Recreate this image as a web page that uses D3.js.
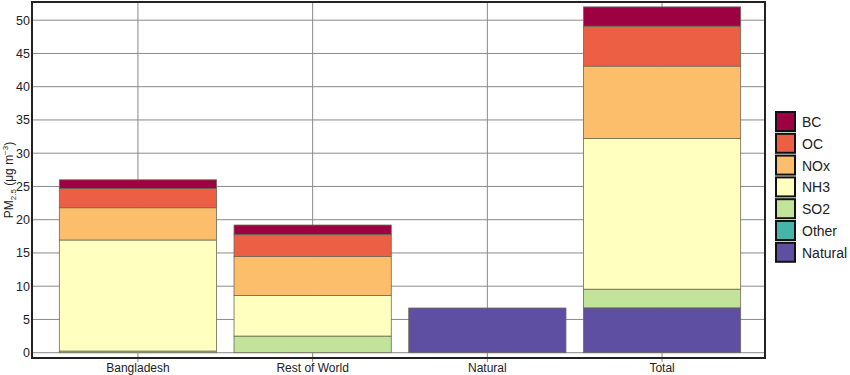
<!DOCTYPE html>
<html><head><meta charset="utf-8">
<script src="https://cdn.jsdelivr.net/npm/d3@7"></script>
<style>body{margin:0;background:#fff}svg{display:block;font-family:"Liberation Sans",Arial,sans-serif}</style>
</head><body>
<svg id="c" width="850" height="375"></svg>
<script>
const categories = ["Bangladesh", "Rest of World", "Natural", "Total"];
const sources = ["Natural", "Other", "SO2", "NH3", "NOx", "OC", "BC"];
const Natural = [0, 0, 6.72, 6.75];
const Other   = [0, 0, 0, 0];
const SO2     = [0.25, 2.5, 0, 2.8];
const NH3     = [16.7, 6.1, 0, 22.65];
const NOx     = [4.85, 5.85, 0, 10.9];
const OC      = [2.9, 3.3, 0, 6.0];
const BC      = [1.3, 1.45, 0, 2.9];
const yTicks  = [0, 5, 10, 15, 20, 25, 30, 35, 40, 45, 50];
const colors = {BC:"#9e0142", OC:"#ec5f44", NOx:"#fdbe6c", NH3:"#ffffbf", SO2:"#c2e39a", Other:"#45b5aa", Natural:"#5e4fa2"};

const seriesVals = {Natural, Other, SO2, NH3, NOx, OC, BC};
const table = categories.map((c, i) => {
  const r = {cat: c};
  sources.forEach(s => r[s] = seriesVals[s][i]);
  return r;
});

const svg = d3.select("#c");
const L = 32, R = 765, T = 2, B = 358;
const x = d3.scaleBand().domain(categories).range([L + 2, R + 1]).paddingInner(0.1).paddingOuter(0.145);
const y = d3.scaleLinear().domain([0, 50]).range([352.7, 20.2]);

// gridlines
svg.append("g").selectAll("line").data(yTicks).join("line")
  .attr("x1", L).attr("x2", R).attr("y1", d => y(d)).attr("y2", d => y(d))
  .attr("stroke", "#8a8a8a").attr("stroke-width", 1);
svg.append("g").selectAll("line").data(categories).join("line")
  .attr("x1", d => x(d) + x.bandwidth()/2).attr("x2", d => x(d) + x.bandwidth()/2)
  .attr("y1", T).attr("y2", B + 4)
  .attr("stroke", "#8a8a8a").attr("stroke-width", 1);

// bars
const stack = d3.stack().keys(sources)(table);
svg.append("g").selectAll("g").data(stack).join("g")
  .attr("fill", d => colors[d.key])
  .selectAll("rect").data(d => d.filter(p => p[1] - p[0] > 0)).join("rect")
  .attr("x", d => x(d.data.cat)).attr("width", x.bandwidth())
  .attr("y", d => y(d[1])).attr("height", d => y(d[0]) - y(d[1]))
  .attr("stroke", "#6e6a55").attr("stroke-width", 0.8);

// frame
svg.append("rect").attr("x", L).attr("y", T).attr("width", R - L).attr("height", B - T)
  .attr("fill", "none").attr("stroke", "#222").attr("stroke-width", 2);

// y axis
const ya = d3.axisLeft(y).tickValues(yTicks).tickSize(0).tickPadding(2);
const yg = svg.append("g").attr("transform", `translate(${L},0)`).call(ya);
yg.select(".domain").remove();
yg.selectAll("text").attr("font-size", 12.5).attr("fill", "#222").attr("font-family", "Liberation Sans, Arial, sans-serif");

// x axis
const xa = d3.axisBottom(x).tickSize(0).tickPadding(5);
const xg = svg.append("g").attr("transform", `translate(0,${B})`).call(xa);
xg.select(".domain").remove();
xg.selectAll("text").attr("font-size", 12).attr("fill", "#222").attr("font-family", "Liberation Sans, Arial, sans-serif");

// y label
const yl = svg.append("text").attr("transform", "translate(13,180) rotate(-90)")
  .attr("text-anchor", "middle").attr("font-size", 12).attr("fill", "#222");
yl.append("tspan").text("PM");
yl.append("tspan").attr("font-size", 8).attr("dy", 3).text("2.5");
yl.append("tspan").attr("dy", -3).text("\u00a0(μg m");
yl.append("tspan").attr("font-size", 8).attr("dy", -5).text("−3");
yl.append("tspan").attr("dy", 5).text(")");

// legend
const legendOrder = ["BC", "OC", "NOx", "NH3", "SO2", "Other", "Natural"];
const lg = svg.append("g").attr("transform", "translate(776,112)");
const row = lg.selectAll("g").data(legendOrder).join("g")
  .attr("transform", (d, i) => `translate(0,${i * 21.8})`);
row.append("rect").attr("width", 19).attr("height", 19)
  .attr("fill", d => colors[d]).attr("stroke", "#111").attr("stroke-width", 2);
row.append("text").attr("x", 26).attr("y", 15).attr("font-size", 14).attr("fill", "#222").text(d => d);
</script>
</body></html>
